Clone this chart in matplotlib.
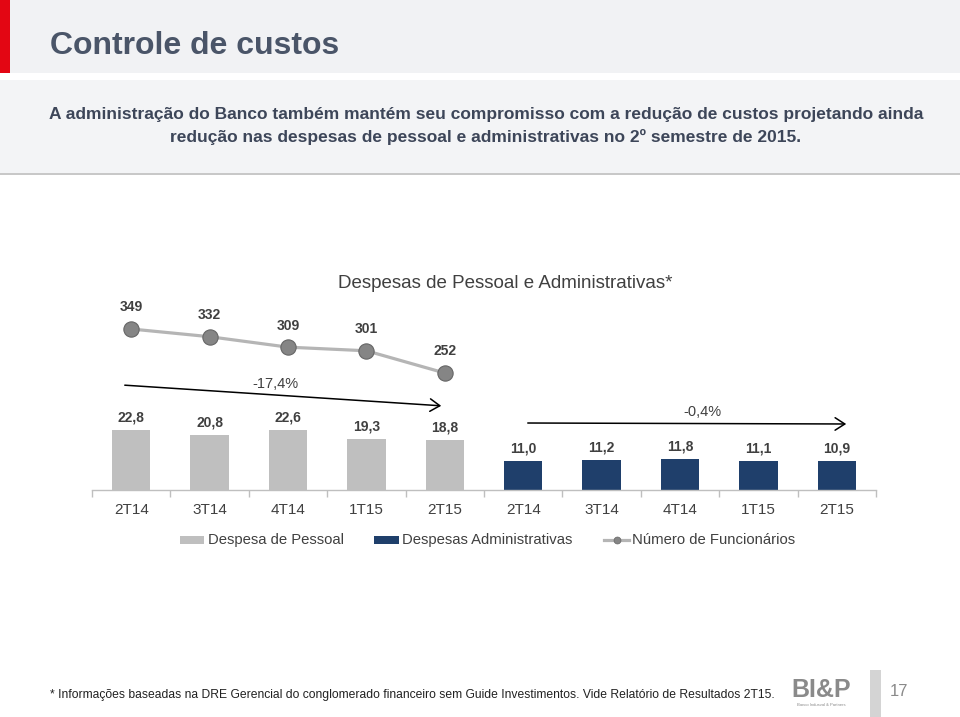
import matplotlib
matplotlib.use("Agg")
import matplotlib.pyplot as plt
from matplotlib.patches import Rectangle, FancyArrowPatch
from matplotlib.lines import Line2D
import numpy as np

plt.rcParams['font.family'] = ['Liberation Sans', 'DejaVu Sans']

# ---------------- data ----------------
quarters = ["2T14", "3T14", "4T14", "1T15", "2T15"]
tick_labels = quarters + quarters
pessoal = [22.8, 20.8, 22.6, 19.3, 18.8]
administrativas = [11.0, 11.2, 11.8, 11.1, 10.9]
funcionarios = [349, 332, 309, 301, 252]
var_pessoal = "-17,4%"
var_admin = "-0,4%"
series_names = ["Despesa de Pessoal", "Despesas Administrativas", "Número de Funcionários"]
chart_title = "Despesas de Pessoal e Administrativas*"

W, H = 960, 717
fig = plt.figure(figsize=(W / 100, H / 100), dpi=100)
fig.patch.set_facecolor("white")


def fx(x):
    return x / W


def fy(y):
    return 1 - y / H


# ---------------- header ----------------
fig.patches.append(Rectangle((0, fy(73)), 1, 73 / H, transform=fig.transFigure,
                             facecolor="#f1f2f4", edgecolor="none", zorder=0))
fig.patches.append(Rectangle((0, fy(73)), fx(10), 73 / H, transform=fig.transFigure,
                             facecolor="#e30613", edgecolor="none", zorder=1))
fig.text(fx(50), fy(42), "Controle de custos", fontsize=23, fontweight="bold",
         color="#4a5568", va="center_baseline", ha="left")

# subtitle band
fig.patches.append(Rectangle((0, fy(175)), 1, 3 / H, transform=fig.transFigure,
                             facecolor="#c8c8c8", edgecolor="none", zorder=0))
fig.patches.append(Rectangle((0, fy(173)), 1, 93 / H, transform=fig.transFigure,
                             facecolor="#f3f4f6", edgecolor="none", zorder=0))
fig.text(fx(486), fy(115),
         "A administração do Banco também mantém seu compromisso com a redução de custos projetando ainda",
         fontsize=12.5, fontweight="bold", color="#3d4659", ha="center", va="center")
fig.text(fx(486), fy(137),
         "redução nas despesas de pessoal e administrativas no 2º semestre de 2015.",
         fontsize=12.5, fontweight="bold", color="#3d4659", ha="center", va="center")

# ---------------- chart ----------------
x_left, x_right = 92, 876
y_base, y_top = 490, 270
ax = fig.add_axes([fx(x_left), fy(y_base), (x_right - x_left) / W, (y_base - y_top) / H])
ax.set_xlim(-0.5, 9.5)
ax.set_ylim(0, (y_base - y_top) / 2.65)
ax.patch.set_alpha(0)

xp = np.arange(len(pessoal))
xa = np.arange(len(administrativas)) + len(pessoal)
bw = 0.49
ax.bar(xp, pessoal, width=bw, color="#bfbfbf", zorder=2)
ax.bar(xa, administrativas, width=bw, color="#1f3f6b", zorder=2)

for x, v in zip(list(xp) + list(xa), pessoal + administrativas):
    ax.annotate(f"{v:.1f}".replace(".", ","), (x, v), xytext=(0, 9),
                textcoords="offset points", ha="center", va="center",
                fontsize=10, fontweight="bold", color="#404040")

for s in ["top", "right", "left"]:
    ax.spines[s].set_visible(False)
ax.spines["bottom"].set_color("#bfbfbf")
ax.spines["bottom"].set_linewidth(1)
ax.set_yticks([])
ax.set_xticks(np.arange(len(tick_labels)))
ax.set_xticklabels(tick_labels, fontsize=11, color="#404040")
ax.tick_params(axis="x", length=0, pad=9)
ax.set_xticks(np.arange(-0.5, 10, 1), minor=True)
ax.tick_params(axis="x", which="minor", length=5, color="#bfbfbf", width=1)

# line on twin axis
ax2 = ax.twinx()
per_px = 1 / 0.454
lo = 252 - (y_base - 373) * per_px
hi = 349 + (329 - y_top) * per_px
ax2.set_ylim(lo, hi)
ax2.set_axis_off()
ax2.plot(xp, funcionarios, color="#b5b5b5", lw=2.3, zorder=3,
         marker="o", markersize=11, markerfacecolor="#858585",
         markeredgecolor="#666666", markeredgewidth=0.8)
for x, v in zip(xp, funcionarios):
    ax2.annotate(str(v), (x, v), xytext=(0, 15.5), textcoords="offset points",
                 ha="center", va="center", fontsize=10, fontweight="bold", color="#404040")

# title
fig.text(fx(505), fy(283), chart_title, fontsize=13.5, color="#404040",
         ha="center", va="center")

# arrows
arr1 = FancyArrowPatch((fx(122), fy(385)), (fx(444), fy(406)), transform=fig.transFigure,
                       arrowstyle="->,head_length=7,head_width=4.5", color="black", lw=1.1,
                       mutation_scale=1)
arr2 = FancyArrowPatch((fx(525), fy(423)), (fx(849), fy(424)), transform=fig.transFigure,
                       arrowstyle="->,head_length=7,head_width=4.5", color="black", lw=1.1,
                       mutation_scale=1)
fig.patches.extend([arr1, arr2])
fig.text(fx(275), fy(384), var_pessoal, fontsize=10.5, color="#404040", ha="center", va="center")
fig.text(fx(702), fy(412), var_admin, fontsize=10.5, color="#404040", ha="center", va="center")

# legend (manual)
ly = 540
fig.patches.append(Rectangle((fx(180), fy(ly + 4)), 24 / W, 8 / H, transform=fig.transFigure,
                             facecolor="#bfbfbf", edgecolor="none"))
fig.text(fx(208), fy(ly), series_names[0], fontsize=10.7, color="#404040", va="center")
fig.patches.append(Rectangle((fx(374), fy(ly + 4)), 25 / W, 8 / H, transform=fig.transFigure,
                             facecolor="#1f3f6b", edgecolor="none"))
fig.text(fx(402), fy(ly), series_names[1], fontsize=10.7, color="#404040", va="center")
fig.lines.append(Line2D([fx(604), fx(629)], [fy(ly), fy(ly)], transform=fig.transFigure,
                        color="#b5b5b5", lw=2.3))
fig.lines.append(Line2D([fx(616.5)], [fy(ly)], transform=fig.transFigure, marker="o",
                        markersize=5, markerfacecolor="#858585", markeredgecolor="#666666",
                        markeredgewidth=0.5))
fig.text(fx(632), fy(ly), series_names[2], fontsize=10.7, color="#404040", va="center")

# ---------------- footer ----------------
fig.text(fx(50), fy(695),
         "* Informações baseadas na DRE Gerencial do conglomerado financeiro sem Guide Investimentos. Vide Relatório de Resultados 2T15.",
         fontsize=8.7, color="#222222", ha="left", va="center")
fig.text(fx(821), fy(690), "BI&P", fontsize=18, fontweight="heavy", color="#8a8a8a",
         ha="center", va="center")
fig.text(fx(821), fy(705), "Banco Indusval & Partners", fontsize=3, color="#8a8a8a",
         ha="center", va="center")
fig.patches.append(Rectangle((fx(870), fy(717)), 11 / W, 47 / H, transform=fig.transFigure,
                             facecolor="#d4d4d4", edgecolor="none"))
fig.text(fx(899), fy(692), "17", fontsize=12, color="#8a8a8a", ha="center", va="center")

fig.savefig("out.png", dpi=100, facecolor="white")
